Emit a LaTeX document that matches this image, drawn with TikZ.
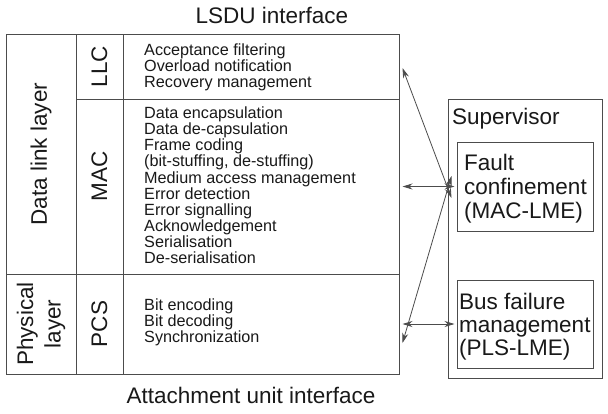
\documentclass[tikz,border=0pt]{standalone}
\usepackage{fontspec}
\setmainfont{Liberation Sans}
\usetikzlibrary{arrows.meta}
\definecolor{linecol}{gray}{0.3}
\definecolor{txtcol}{gray}{0.1}
\begin{document}
\begin{tikzpicture}[x=1pt,y=-1pt,
  cell/.style={draw=linecol, line width=1pt, inner sep=0pt},
  big/.style={font=\fontsize{22.5}{25}\selectfont, text=txtcol, inner sep=0pt},
  items/.style={font=\fontsize{16.2}{16.1}\selectfont, text=txtcol, align=left, inner sep=0pt, anchor=base west},
  link/.style={draw=linecol, line width=0.8pt, {Stealth[length=10pt,width=6pt]}-{Stealth[length=10pt,width=6pt]}}]
\useasboundingbox[fill=white] (0,0) rectangle (608,413);

% main block cells
\node[cell, minimum width=70pt, minimum height=240pt] (dll) at (41,154) {};
\node[cell, minimum width=70pt, minimum height=100pt] (phy) at (41,324) {};
\node[cell, minimum width=47pt, minimum height=65pt] (llc) at (99.5,66.5) {};
\node[cell, minimum width=47pt, minimum height=175pt] (mac) at (99.5,186.5) {};
\node[cell, minimum width=47pt, minimum height=100pt] (pcs) at (99.5,324) {};
\node[cell, minimum width=276pt, minimum height=65pt] (llcf) at (261,66.5) {};
\node[cell, minimum width=276pt, minimum height=175pt] (macf) at (261,186.5) {};
\node[cell, minimum width=276pt, minimum height=100pt] (pcsf) at (261,324) {};

% labels
\node[big, rotate=90] (dlltxt) at (dll.center) {Data link layer};
\node[big, rotate=90, align=center, font=\fontsize{22.5}{27.5}\selectfont] (phytxt) at (phy.center) {Physical\\layer};
\node[big, rotate=90] (llctxt) at (llc.center) {LLC};
\node[big, rotate=90] (mactxt) at (99.5,176) {MAC};
\node[big, rotate=90] (pcstxt) at (pcs.center) {PCS};

\node[items] (llcitems) at (144,87.5) {Acceptance filtering\\Overload notification\\Recovery management};
\node[items] (macitems) at (144,263.5) {Data encapsulation\\Data de-capsulation\\Frame coding\\(bit-stuffing, de-stuffing)\\Medium access management\\Error detection\\Error signalling\\Acknowledgement\\Serialisation\\De-serialisation};
\node[items] (pcsitems) at (144,342.5) {Bit encoding\\Bit decoding\\Synchronization};

\node[big, anchor=base] (lsdu) at (272,23) {LSDU interface};
\node[big, anchor=base] (aui) at (251,403) {Attachment unit interface};

% supervisor
\node[cell, minimum width=154pt, minimum height=279pt] (sup) at (525,238.5) {};
\node[big, anchor=base west] (suptxt) at (452,124) {Supervisor};
\node[cell, minimum width=136pt, minimum height=89pt] (fault) at (525,186.5) {};
\node[big, anchor=base west, align=left, font=\fontsize{22.5}{24}\selectfont] (faulttxt) at (464,218) {Fault\\confinement\\(MAC-LME)};
\node[cell, minimum width=136pt, minimum height=88pt] (bus) at (525,324) {};
\node[big, anchor=base west, align=left, font=\fontsize{22.5}{23}\selectfont] (bustxt) at (459,355) {Bus failure\\management\\(PLS-LME)};

% connectors
\coordinate (a1) at ([xshift=3pt,yshift=-1.5pt]llcf.east);
\coordinate (a2) at ([xshift=-5pt,yshift=-11.5pt]fault.west);
\draw[link] (a1) -- (a2);
\draw[link] ([xshift=3pt]macf.east |- fault.west) -- ([xshift=-2pt]fault.west);
\coordinate (b1) at ([xshift=-5pt,yshift=10.5pt]fault.west);
\coordinate (b2) at ([xshift=3pt,yshift=-19pt]pcsf.east);
\draw[link] (b1) -- (b2);
\draw[link] ([xshift=3pt]pcsf.east) -- ([xshift=-2pt]bus.west);
\end{tikzpicture}
\end{document}
